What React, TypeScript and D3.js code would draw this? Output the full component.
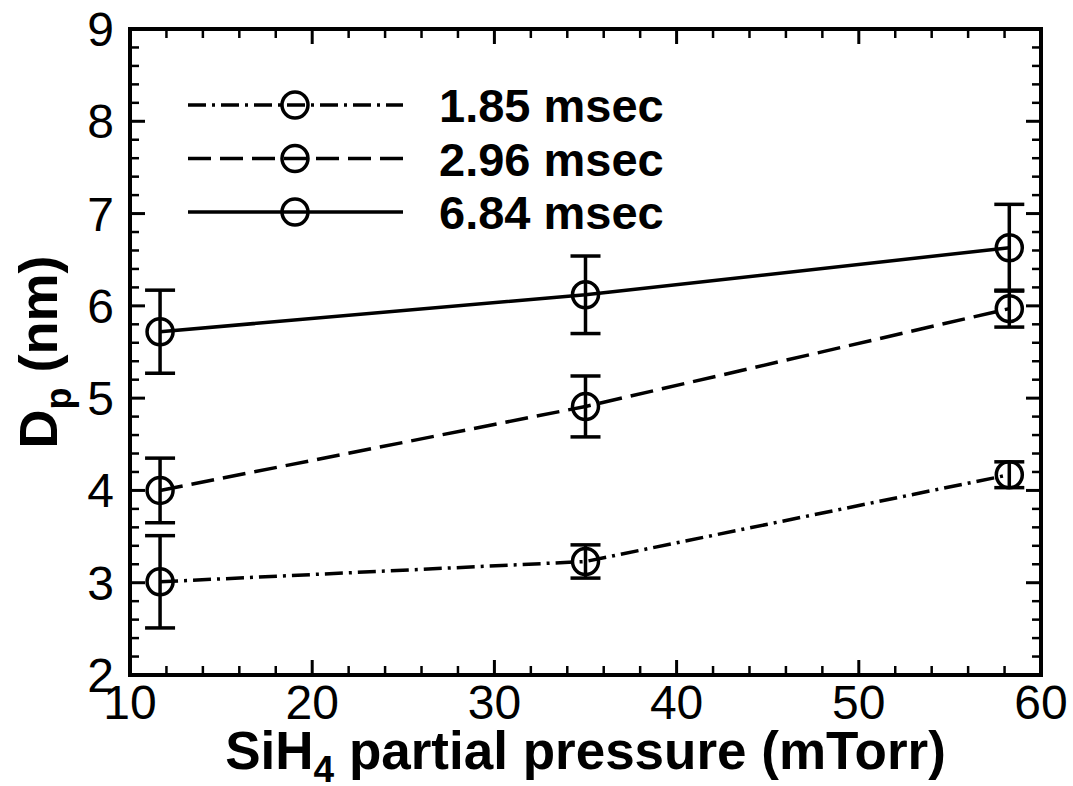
import React from "react";
import * as d3 from "d3";

// SiH4 partial pressure (mTorr) for each measurement
const pressures = [11.65, 35.0, 58.26];

// Residence times shown in the legend
const seriesLabels = ["1.85 msec", "2.96 msec", "6.84 msec"];
const seriesDash = ["18,6,3,6", "23,9", "none"];

// Mean particle diameter (nm) and error half-widths
const dp185 = [3.01, 3.23, 4.17];
const err185 = [0.5, 0.18, 0.14];
const dp296 = [4.0, 4.91, 5.97];
const err296 = [0.35, 0.33, 0.2];
const dp684 = [5.72, 6.12, 6.63];
const err684 = [0.45, 0.42, 0.47];

const xTicks = [10, 20, 30, 40, 50, 60];
const yTicks = [2, 3, 4, 5, 6, 7, 8, 9];

const W = 1073;
const H = 786;
const M = { left: 130, right: 1041, top: 29, bottom: 675 };
const FONT = "'Liberation Sans', Arial, Helvetica, sans-serif";

export default function App() {
  const x = d3.scaleLinear().domain([10, 60]).range([M.left, M.right]);
  const y = d3.scaleLinear().domain([2, 9]).range([M.bottom, M.top]);

  const values = [dp185, dp296, dp684];
  const errors = [err185, err296, err684];

  const line = d3
    .line<number>()
    .x((_, i) => x(pressures[i]))
    .y((d) => y(d));

  const xMinor = d3.range(10, 60.001, 2).filter((v) => v % 10 !== 0);
  const yMinor = d3
    .range(2, 9.0001, 0.2)
    .filter((v) => Math.abs(v - Math.round(v)) > 0.01);

  const MAJ = 15;
  const MIN = 9;
  const R = 13;
  const CAP = 15;

  return (
    <svg
      width={W}
      height={H}
      style={{ position: "absolute", left: 0, top: 0, background: "#fff" }}
      fontFamily={FONT}
    >
      <rect width={W} height={H} fill="#fff" />

      {/* tick marks on all four sides, pointing inward */}
      <g stroke="#000" strokeWidth={3}>
        {xTicks.map((t) => (
          <g key={"xm" + t}>
            <line x1={x(t)} x2={x(t)} y1={M.bottom} y2={M.bottom - MAJ} />
            <line x1={x(t)} x2={x(t)} y1={M.top} y2={M.top + MAJ} />
          </g>
        ))}
        {yTicks.map((t) => (
          <g key={"ym" + t}>
            <line x1={M.left} x2={M.left + MAJ} y1={y(t)} y2={y(t)} />
            <line x1={M.right} x2={M.right - MAJ} y1={y(t)} y2={y(t)} />
          </g>
        ))}
      </g>
      <g stroke="#000" strokeWidth={2.5}>
        {xMinor.map((t) => (
          <g key={"xn" + t}>
            <line x1={x(t)} x2={x(t)} y1={M.bottom} y2={M.bottom - MIN} />
            <line x1={x(t)} x2={x(t)} y1={M.top} y2={M.top + MIN} />
          </g>
        ))}
        {yMinor.map((t, i) => (
          <g key={"yn" + i}>
            <line x1={M.left} x2={M.left + MIN} y1={y(t)} y2={y(t)} />
            <line x1={M.right} x2={M.right - MIN} y1={y(t)} y2={y(t)} />
          </g>
        ))}
      </g>

      {/* frame */}
      <rect
        x={M.left}
        y={M.top}
        width={M.right - M.left}
        height={M.bottom - M.top}
        fill="none"
        stroke="#000"
        strokeWidth={4}
      />

      {/* tick labels */}
      <g fontSize={48} fill="#000">
        {xTicks.map((t) => (
          <text key={"xl" + t} x={x(t)} y={M.bottom + 44} textAnchor="middle">
            {t}
          </text>
        ))}
        {yTicks.map((t) => (
          <text
            key={"yl" + t}
            x={M.left - 16}
            y={y(t) + 17}
            textAnchor="end"
          >
            {t}
          </text>
        ))}
      </g>

      {/* series lines */}
      {values.map((vals, s) => (
        <path
          key={"ln" + s}
          d={line(vals) || ""}
          fill="none"
          stroke="#000"
          strokeWidth={3.5}
          strokeDasharray={seriesDash[s]}
        />
      ))}

      {/* error bars and markers */}
      {values.map((vals, s) => (
        <g key={"pt" + s} stroke="#000" fill="none">
          {vals.map((v, i) => {
            const cx = x(pressures[i]);
            const top = y(v + errors[s][i]);
            const bot = y(v - errors[s][i]);
            return (
              <g key={i}>
                <line x1={cx} x2={cx} y1={top} y2={bot} strokeWidth={3.5} />
                <line x1={cx - CAP} x2={cx + CAP} y1={top} y2={top} strokeWidth={3.5} />
                <line x1={cx - CAP} x2={cx + CAP} y1={bot} y2={bot} strokeWidth={3.5} />
                <circle cx={cx} cy={y(v)} r={R} strokeWidth={3.5} />
              </g>
            );
          })}
        </g>
      ))}

      {/* legend */}
      {seriesLabels.map((lab, s) => {
        const ly = 105 + s * 53.5;
        return (
          <g key={"lg" + s}>
            <line
              x1={188}
              x2={403}
              y1={ly}
              y2={ly}
              stroke="#000"
              strokeWidth={3.5}
              strokeDasharray={seriesDash[s]}
            />
            <circle cx={295} cy={ly} r={R} fill="none" stroke="#000" strokeWidth={3.5} />
            <text x={439} y={ly + 17} fontSize={47} fontWeight="bold" fill="#000">
              {lab}
            </text>
          </g>
        );
      })}

      {/* axis titles */}
      <text
        x={(M.left + M.right) / 2}
        y={769}
        textAnchor="middle"
        fontSize={53}
        fontWeight="bold"
        fill="#000"
      >
        SiH
        <tspan fontSize={37} dy={13}>
          4
        </tspan>
        <tspan dy={-13}> partial pressure (mTorr)</tspan>
      </text>
      <text
        transform={`translate(57, ${(M.top + M.bottom) / 2}) rotate(-90)`}
        textAnchor="middle"
        fontSize={54}
        fontWeight="bold"
        fill="#000"
      >
        D
        <tspan fontSize={36} dy={14}>
          p
        </tspan>
        <tspan dy={-14}> (nm)</tspan>
      </text>
    </svg>
  );
}
